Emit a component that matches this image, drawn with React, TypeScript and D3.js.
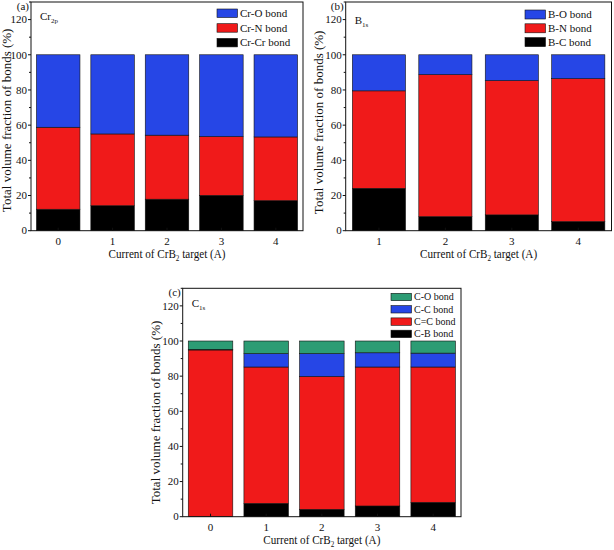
import React from "react";
import * as d3 from "d3";

// ---------- data ----------
const catsA = ["0", "1", "2", "3", "4"];
const crCr = [12.2, 14.2, 17.9, 20.1, 17.1];
const crN = [46.6, 40.8, 36.4, 33.4, 36.2];
const crO = [41.2, 45.0, 45.7, 46.5, 46.7];

const catsB = ["1", "2", "3", "4"];
const bC = [24.1, 8.0, 9.0, 5.2];
const bN = [55.4, 80.7, 76.3, 81.2];
const bO = [20.5, 11.3, 14.7, 13.6];

const catsC = ["0", "1", "2", "3", "4"];
const cB = [0, 7.6, 4.2, 6.1, 8.2];
const cCdouble = [94.9, 77.6, 75.6, 79.1, 77.0];
const cC = [0.3, 7.6, 13.0, 8.1, 7.9];
const cO = [4.8, 7.2, 7.2, 6.7, 6.9];

const yTicks = [0, 20, 40, 60, 80, 100, 120];
const yMinor = [10, 30, 50, 70, 90, 110, 130];

const BLUE = "#2646e6";
const RED = "#f01a1a";
const BLACK = "#000000";
const GREEN = "#2c9c74";

const FONT = "'Liberation Serif', 'Times New Roman', serif";

type Series = { name: string; values: number[]; color: string };

type PanelProps = {
  cats: string[];
  series: Series[]; // bottom to top
  legendOrder: Series[]; // top to bottom in legend
  left: number;
  right: number;
  top: number;
  bottom: number;
  tag: string;
  elem: string;
  elemSub: string;
  elemDy: number;
  legendDx: number;
  legendDy: number;
  legendStep: number;
  legendBoxH: number;
  legendFont: number;
  titleCenterDy: number;
  titleOffset: number;
};

function Panel(p: PanelProps) {
  const x = d3.scaleBand<string>().domain(p.cats).range([p.left, p.right]).paddingInner(0.2).paddingOuter(0.1);
  const y = d3.scaleLinear().domain([0, 130]).range([p.bottom, p.top]);
  const stackData = p.cats.map((c, i) => {
    const o: any = { cat: c };
    p.series.forEach((s) => (o[s.name] = s.values[i]));
    return o;
  });
  const stack = d3.stack<any>().keys(p.series.map((s) => s.name))(stackData);
  const bw = x.bandwidth();
  const legX = p.right - p.legendDx;
  const midY = (p.top + p.bottom) / 2 + p.titleCenterDy;
  const cx = (p.left + p.right) / 2;
  return (
    <g fontFamily={FONT}>
      {stack.map((layer, li) => (
        <g key={li}>
          {layer.map((d, i) => (
            <rect
              key={i}
              x={x(p.cats[i])!}
              y={y(d[1])}
              width={bw}
              height={Math.max(0, y(d[0]) - y(d[1]))}
              fill={p.series[li].color}
              stroke="#111"
              strokeWidth={0.6}
            />
          ))}
        </g>
      ))}
      {/* frame */}
      <rect x={p.left} y={p.top} width={p.right - p.left} height={p.bottom - p.top} fill="none" stroke="#111" strokeWidth={1} />
      {/* y ticks */}
      {yTicks.map((t) => (
        <g key={t}>
          <line x1={p.left - 3} x2={p.left} y1={y(t)} y2={y(t)} stroke="#111" strokeWidth={1} />
          <text x={p.left - 4} y={y(t)} dy="0.34em" textAnchor="end" fontSize={11} fill="#111">
            {t}
          </text>
        </g>
      ))}
      {yMinor.map((t) => (
        <line key={t} x1={p.left - 2} x2={p.left} y1={y(t)} y2={y(t)} stroke="#111" strokeWidth={1} />
      ))}
      {/* x ticks */}
      {p.cats.map((c) => (
        <g key={c}>
          <line x1={x(c)! + bw / 2} x2={x(c)! + bw / 2} y1={p.bottom} y2={p.bottom - 3} stroke="#111" strokeWidth={1} />
          <text x={x(c)! + bw / 2} y={p.bottom + 14} textAnchor="middle" fontSize={11} fill="#111">
            {c}
          </text>
        </g>
      ))}
      {/* x title */}
      <g transform={`translate(${cx},${p.bottom + 27}) scale(0.89,1)`}>
        <text x={0} y={0} textAnchor="middle" fontSize={12.5} fill="#111">
          Current of CrB
          <tspan fontSize={8} dy={3}>2</tspan>
          <tspan dy={-3}> target (A)</tspan>
        </text>
      </g>
      {/* y title */}
      <text
        transform={`translate(${p.left - p.titleOffset},${midY}) rotate(-90)`}
        textAnchor="middle"
        fontSize={13}
        fill="#111"
      >
        Total volume fraction of bonds (%)
      </text>
      {/* panel tag */}
      <text x={p.left - 2} y={p.top + 8} textAnchor="end" fontSize={11} fill="#111">
        {p.tag}
      </text>
      {/* element label */}
      <text x={p.left + 9} y={p.top + p.elemDy} fontSize={11} fill="#111">
        {p.elem}
        <tspan fontSize={7} dy={2.5}>{p.elemSub}</tspan>
      </text>
      {/* legend */}
      {p.legendOrder.map((s, i) => {
        const yy = p.top + p.legendDy + i * p.legendStep;
        return (
          <g key={s.name}>
            <rect x={legX} y={yy} width={20.5} height={p.legendBoxH} fill={s.color} stroke="#111" strokeWidth={0.6} />
            <text x={legX + 23} y={yy + p.legendBoxH / 2} dy="0.34em" fontSize={p.legendFont} fill="#111">
              {s.name}
            </text>
          </g>
        );
      })}
    </g>
  );
}

export default function App() {
  const sA: Series[] = [
    { name: "Cr-Cr bond", values: crCr, color: BLACK },
    { name: "Cr-N bond", values: crN, color: RED },
    { name: "Cr-O bond", values: crO, color: BLUE },
  ];
  const sB: Series[] = [
    { name: "B-C bond", values: bC, color: BLACK },
    { name: "B-N bond", values: bN, color: RED },
    { name: "B-O bond", values: bO, color: BLUE },
  ];
  const sC: Series[] = [
    { name: "C-B bond", values: cB, color: BLACK },
    { name: "C=C bond", values: cCdouble, color: RED },
    { name: "C-C bond", values: cC, color: BLUE },
    { name: "C-O bond", values: cO, color: GREEN },
  ];
  return (
    <svg width={614} height={550} style={{ position: "absolute", left: 0, top: 0, background: "#fff" }}>
      <rect width={614} height={550} fill="#fff" />
      <Panel
        cats={catsA}
        series={sA}
        legendOrder={[...sA].reverse()}
        left={31}
        right={303}
        top={2}
        bottom={230.7}
        tag="(a)"
        elem="Cr"
        elemSub="2p"
        elemDy={18}
        legendDx={86}
        legendDy={7}
        legendStep={14.7}
        legendBoxH={8.5}
        legendFont={11}
        titleCenterDy={4}
        titleOffset={20.5}
      />
      <Panel
        cats={catsB}
        series={sB}
        legendOrder={[...sB].reverse()}
        left={345.7}
        right={611.5}
        top={2}
        bottom={230.7}
        tag="(b)"
        elem="B"
        elemSub="1s"
        elemDy={22}
        legendDx={86.5}
        legendDy={8}
        legendStep={13.8}
        legendBoxH={9}
        legendFont={11}
        titleCenterDy={6}
        titleOffset={22.5}
      />
      <Panel
        cats={catsC}
        series={sC}
        legendOrder={[...sC].reverse()}
        left={182.7}
        right={461}
        top={288.3}
        bottom={516.7}
        tag="(c)"
        elem="C"
        elemSub="1s"
        elemDy={19}
        legendDx={70}
        legendDy={5}
        legendStep={12.3}
        legendBoxH={7.4}
        legendFont={10}
        titleCenterDy={10}
        titleOffset={22.5}
      />
    </svg>
  );
}
